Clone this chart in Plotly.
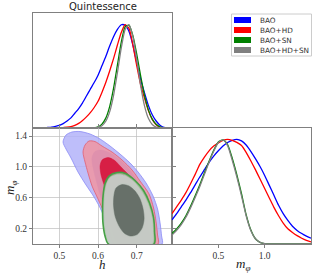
import plotly.graph_objects as go

# ---------------- data ----------------
series_names = ["BAO", "BAO+HD", "BAO+SN", "BAO+HD+SN"]
series_colors = ["#0000ff", "#ff0000", "#008000", "#808080"]

# 1D marginal of h
h_grid = [0.44, 0.45, 0.46, 0.47, 0.48, 0.49, 0.50, 0.51, 0.52, 0.53, 0.54, 0.55,
          0.56, 0.57, 0.58, 0.59, 0.60, 0.61, 0.62, 0.63, 0.64, 0.65, 0.66, 0.67,
          0.68, 0.69, 0.70, 0.71, 0.72, 0.73, 0.74, 0.75, 0.76, 0.77, 0.78, 0.79]
h_bao = [0.0, 0.002, 0.004, 0.008, 0.012, 0.019, 0.028, 0.045, 0.07, 0.10, 0.145, 0.19,
         0.245, 0.31, 0.375, 0.44, 0.51, 0.60, 0.69, 0.79, 0.88, 0.95, 0.995, 0.99,
         0.93, 0.80, 0.63, 0.47, 0.34, 0.22, 0.13, 0.07, 0.03, 0.01, 0.003, 0.0]
h_bao_hd = [0.0, 0.0, 0.0, 0.0, 0.001, 0.002, 0.004, 0.007, 0.01, 0.015, 0.028, 0.047,
            0.075, 0.11, 0.15, 0.20, 0.26, 0.345, 0.44, 0.55, 0.67, 0.80, 0.92, 0.995,
            0.96, 0.80, 0.60, 0.42, 0.29, 0.17, 0.085, 0.035, 0.01, 0.002, 0.0, 0.0]
h_bao_sn = [0.0, 0.0, 0.0, 0.0, 0.0, 0.0, 0.0, 0.0, 0.0, 0.0, 0.0, 0.0,
            0.0, 0.0, 0.001, 0.004, 0.014, 0.04, 0.098, 0.209, 0.383, 0.607, 0.828, 0.974,
            0.99, 0.89, 0.71, 0.503, 0.316, 0.177, 0.088, 0.039, 0.015, 0.005, 0.001, 0.0]
h_bao_hd_sn = [0.0, 0.0, 0.0, 0.0, 0.0, 0.0, 0.0, 0.0, 0.0, 0.0, 0.0, 0.0,
               0.0, 0.0, 0.0, 0.002, 0.008, 0.025, 0.068, 0.158, 0.315, 0.534, 0.772, 0.95,
               0.996, 0.88, 0.657, 0.411, 0.216, 0.096, 0.036, 0.011, 0.003, 0.001, 0.0, 0.0]

# 1D marginal of m_phi
m_grid = [0.00, 0.05, 0.10, 0.15, 0.20, 0.25, 0.30, 0.35, 0.40, 0.45, 0.50, 0.55,
          0.60, 0.65, 0.70, 0.75, 0.80, 0.85, 0.90, 0.95, 1.00, 1.05, 1.10, 1.15,
          1.20, 1.25, 1.30, 1.35, 1.40, 1.45, 1.50]
m_bao = [0.23, 0.29, 0.355, 0.42, 0.49, 0.565, 0.64, 0.71, 0.78, 0.84, 0.89, 0.935,
         0.97, 0.99, 1.0, 0.985, 0.945, 0.885, 0.815, 0.74, 0.655, 0.56, 0.465, 0.37,
         0.29, 0.225, 0.17, 0.13, 0.10, 0.075, 0.055]
m_bao_hd = [0.29, 0.355, 0.42, 0.49, 0.575, 0.665, 0.76, 0.83, 0.89, 0.935, 0.965, 0.99,
            1.0, 0.99, 0.97, 0.94, 0.875, 0.795, 0.71, 0.62, 0.53, 0.44, 0.35, 0.27,
            0.20, 0.145, 0.11, 0.08, 0.055, 0.035, 0.02]
m_bao_sn = [0.10, 0.145, 0.20, 0.27, 0.36, 0.46, 0.565, 0.68, 0.79, 0.895, 0.975, 0.995,
            0.95, 0.82, 0.66, 0.48, 0.28, 0.135, 0.05, 0.015, 0.003, 0.0, 0.0, 0.0,
            0.0, 0.0, 0.0, 0.0, 0.0, 0.0, 0.0]
m_bao_hd_sn = [0.085, 0.13, 0.185, 0.255, 0.345, 0.445, 0.55, 0.665, 0.78, 0.885, 0.97, 0.995,
               0.94, 0.80, 0.64, 0.46, 0.27, 0.13, 0.05, 0.015, 0.004, 0.0, 0.0, 0.0,
               0.0, 0.0, 0.0, 0.0, 0.0, 0.0, 0.0]

# 2D contours (h, m_phi), 95% and 68% regions
bao95_h = [0.5096, 0.5173, 0.5328, 0.5535, 0.5793, 0.6052, 0.631, 0.6568, 0.6827, 0.7034,
           0.724, 0.7421, 0.7537, 0.7602, 0.7641, 0.7654, 0.6363, 0.6233, 0.6103, 0.5897,
           0.569, 0.5483, 0.5302, 0.5173]
bao95_m = [1.322, 1.413, 1.452, 1.458, 1.426, 1.361, 1.270, 1.166, 1.050, 0.933,
           0.791, 0.622, 0.454, 0.272, 0.104, 0.0, 0.0, 0.181, 0.415, 0.609,
           0.765, 0.933, 1.115, 1.231]
bao68_h = [0.5845, 0.5922, 0.6078, 0.631, 0.6568, 0.6827, 0.7034, 0.7163, 0.7241, 0.7292,
           0.7318, 0.6517, 0.6362, 0.6207, 0.6078, 0.5961, 0.5884, 0.5845]
bao68_m = [1.127, 1.199, 1.218, 1.179, 1.089, 0.959, 0.791, 0.609, 0.415, 0.207,
           0.0, 0.0, 0.181, 0.389, 0.596, 0.804, 0.959, 1.063]
hd95_h = [0.5612, 0.5664, 0.5767, 0.5922, 0.6103, 0.6362, 0.662, 0.6879, 0.7085, 0.7318,
          0.7434, 0.7499, 0.7537, 0.755, 0.6413, 0.6284, 0.6155, 0.600, 0.5845, 0.5741, 0.5664]
hd95_m = [1.192, 1.283, 1.335, 1.328, 1.270, 1.192, 1.089, 0.959, 0.816, 0.648,
          0.467, 0.285, 0.117, 0.0, 0.0, 0.181, 0.402, 0.583, 0.752, 0.920, 1.063]
hd68_h = [0.6052, 0.6103, 0.6258, 0.6413, 0.6594, 0.6827, 0.693, 0.6982, 0.6956, 0.6853,
          0.6672, 0.6517, 0.6336, 0.6181, 0.6078]
hd68_m = [1.011, 1.089, 1.121, 1.089, 0.998, 0.868, 0.687, 0.467, 0.259, 0.104,
          0.078, 0.207, 0.467, 0.726, 0.894]
sn95_h = [0.649, 0.671, 0.6956, 0.7176, 0.7331, 0.7434, 0.746, 0.7447, 0.6271, 0.618,
          0.6129, 0.6116, 0.6129, 0.618, 0.6284]
sn95_m = [0.927, 0.914, 0.823, 0.693, 0.531, 0.343, 0.156, 0.0, 0.0, 0.104,
          0.259, 0.441, 0.622, 0.784, 0.881]
sn68_h = [0.6465, 0.662, 0.681, 0.697, 0.710, 0.718, 0.721, 0.716, 0.702, 0.683,
          0.666, 0.653, 0.642, 0.638, 0.639]
sn68_m = [0.745, 0.790, 0.770, 0.703, 0.595, 0.460, 0.324, 0.200, 0.110, 0.090,
          0.130, 0.225, 0.360, 0.505, 0.645]
all95_h = [0.649, 0.6698, 0.693, 0.7137, 0.7292, 0.7395, 0.7421, 0.7395, 0.631, 0.622,
           0.6168, 0.6155, 0.6168, 0.622, 0.631]
all95_m = [0.901, 0.888, 0.804, 0.674, 0.518, 0.337, 0.156, 0.0, 0.0, 0.104,
           0.259, 0.441, 0.622, 0.778, 0.862]
all68_h = [0.6465, 0.662, 0.680, 0.6956, 0.7085, 0.7163, 0.7189, 0.7137, 0.7008, 0.6827,
           0.6672, 0.6543, 0.644, 0.640, 0.6413]
all68_m = [0.726, 0.771, 0.752, 0.687, 0.583, 0.454, 0.324, 0.207, 0.123, 0.104,
           0.143, 0.233, 0.363, 0.505, 0.635]

h_ticks = [0.5, 0.6, 0.7]
m_ticks_2d = [0.2, 0.6, 1.0, 1.4]
m_ticks_1d = [0.5, 1.0]

# ---------------- figure ----------------
W, H = 314, 275
def fx(p):
    return p / W
def fy(p):
    return 1 - p / H

fig = go.Figure()

# top-left: h marginal
for vals, col in zip([h_bao, h_bao_hd, h_bao_sn, h_bao_hd_sn], series_colors):
    fig.add_trace(go.Scatter(x=h_grid, y=vals, mode="lines", xaxis="x", yaxis="y",
                             line=dict(color=col, width=1.3, shape="spline", smoothing=0.6),
                             showlegend=False, hoverinfo="skip"))

# bottom-right: m_phi marginal
for vals, col in zip([m_bao, m_bao_hd, m_bao_sn, m_bao_hd_sn], series_colors):
    fig.add_trace(go.Scatter(x=m_grid, y=vals, mode="lines", xaxis="x3", yaxis="y3",
                             line=dict(color=col, width=1.3, shape="spline", smoothing=0.6),
                             showlegend=False, hoverinfo="skip"))

# 2D contours
contours = [
    (bao95_h, bao95_m, "rgba(179,179,249,0.85)", "rgba(140,140,245,0.9)", 0.9),
    (bao68_h, bao68_m, "rgba(110,110,240,0.85)", "rgba(110,110,240,0.85)", 0.5),
    (hd95_h, hd95_m, "rgba(241,149,161,0.85)", "rgba(225,95,115,0.9)", 0.9),
    (hd68_h, hd68_m, "rgba(214,10,50,0.85)", "rgba(214,10,50,0.85)", 0.5),
    (sn95_h, sn95_m, "rgba(140,195,140,0.85)", "rgb(70,160,70)", 1.6),
    (sn68_h, sn68_m, "rgba(80,150,80,0.85)", "rgba(80,150,80,0.85)", 0.5),
    (all95_h, all95_m, "rgba(200,202,200,0.93)", "rgba(200,202,200,0.93)", 0.5),
    (all68_h, all68_m, "rgba(95,104,98,0.92)", "rgba(95,104,98,0.92)", 0.5),
]
for hs, ms, fc, lc, lw in contours:
    fig.add_trace(go.Scatter(x=hs + [hs[0]], y=ms + [ms[0]], mode="lines", fill="toself",
                             fillcolor=fc, xaxis="x2", yaxis="y2",
                             line=dict(color=lc, width=lw, shape="spline", smoothing=0.8),
                             showlegend=False, hoverinfo="skip"))

frame = "#808080"
tickfont = dict(family="Liberation Serif, DejaVu Serif, serif", size=9.5, color="#333333")
xl, xm, xr = fx(33), fx(172), fx(311)
yt, ym, yb = fy(13.3), fy(128.3), fy(244)

fig.update_layout(
    width=W, height=H, autosize=False,
    margin=dict(l=0, r=0, t=0, b=0),
    paper_bgcolor="white", plot_bgcolor="white",
    showlegend=False,
    xaxis=dict(domain=[xl, xm], anchor="y", range=[0.432, 0.791], showticklabels=False,
               ticks="", showgrid=False, zeroline=False, showline=True, linecolor=frame,
               linewidth=1, mirror=True),
    yaxis=dict(domain=[ym, yt], anchor="x", range=[0, 1.105], showticklabels=False,
               ticks="", showgrid=False, zeroline=False, showline=True, linecolor=frame,
               linewidth=1, mirror=True),
    xaxis2=dict(domain=[xl, xm], anchor="y2", range=[0.432, 0.791], tickvals=h_ticks,
                ticktext=[f"{v:.1f}" for v in h_ticks], ticks="outside", ticklen=3,
                tickcolor=frame, showgrid=True, gridcolor="rgba(190,190,190,0.7)",
                gridwidth=1, zeroline=False, showline=True, linecolor=frame, linewidth=1,
                mirror="ticks", tickfont=tickfont, layer="above traces"),
    yaxis2=dict(domain=[yb, ym], anchor="x2", range=[0, 1.5], tickvals=m_ticks_2d,
                ticktext=[f"{v:.1f}" for v in m_ticks_2d], ticks="outside", ticklen=3,
                tickcolor=frame, showgrid=True, gridcolor="rgba(190,190,190,0.7)",
                gridwidth=1, zeroline=False, showline=True, linecolor=frame, linewidth=1,
                mirror="ticks", tickfont=tickfont, layer="above traces"),
    xaxis3=dict(domain=[xm, xr], anchor="y3", range=[0, 1.5], tickvals=m_ticks_1d,
                ticktext=[f"{v:.1f}" for v in m_ticks_1d], ticks="outside", ticklen=3,
                tickcolor=frame, showgrid=False, zeroline=False, showline=True,
                linecolor=frame, linewidth=1, mirror=True, tickfont=tickfont),
    yaxis3=dict(domain=[yb, ym], anchor="x3", range=[0, 1.105], showticklabels=False,
                ticks="", showgrid=False, zeroline=False, showline=True, linecolor=frame,
                linewidth=1, mirror=True),
)

serif_it = dict(family="Liberation Serif, DejaVu Serif, serif", size=13, color="#222222")
annotations = [
    dict(text="Quintessence", x=fx(102.5), y=fy(6.5), xref="paper", yref="paper",
         showarrow=False, xanchor="center", yanchor="middle",
         font=dict(family="DejaVu Sans, sans-serif", size=10, color="#222222")),
    dict(text="<i>h</i>", x=fx(102.5), y=fy(264.5), xref="paper", yref="paper",
         showarrow=False, xanchor="center", yanchor="middle", font=serif_it),
    dict(text="<i>m</i><sub><i>φ</i></sub>", x=fx(243), y=fy(264), xref="paper", yref="paper",
         showarrow=False, xanchor="center", yanchor="middle", font=serif_it),
    dict(text="<i>m</i><sub><i>φ</i></sub>", x=fx(10), y=fy(188), xref="paper", yref="paper",
         showarrow=False, xanchor="center", yanchor="middle", textangle=-90, font=serif_it),
]

# manual legend
shapes = [dict(type="rect", xref="paper", yref="paper", x0=fx(231.5), x1=fx(311.5),
               y0=fy(56), y1=fy(14), line=dict(color="#cccccc", width=1), fillcolor="white",
               layer="above")]
for i, (name, col) in enumerate(zip(series_names, series_colors)):
    cy = 20 + 10 * i
    shapes.append(dict(type="rect", xref="paper", yref="paper", x0=fx(234), x1=fx(251),
                       y0=fy(cy + 3), y1=fy(cy - 3), line=dict(width=0), fillcolor=col,
                       layer="above"))
    annotations.append(dict(text=name, x=fx(257.5), y=fy(cy), xref="paper", yref="paper",
                            showarrow=False, xanchor="left", yanchor="middle",
                            font=dict(family="DejaVu Sans, sans-serif", size=7.3,
                                      color="#333333")))

fig.update_layout(annotations=annotations, shapes=shapes)
fig.write_html("out.html", config={"displayModeBar": False},
               post_script="document.body.style.margin='0px';document.body.style.padding='0px';")
